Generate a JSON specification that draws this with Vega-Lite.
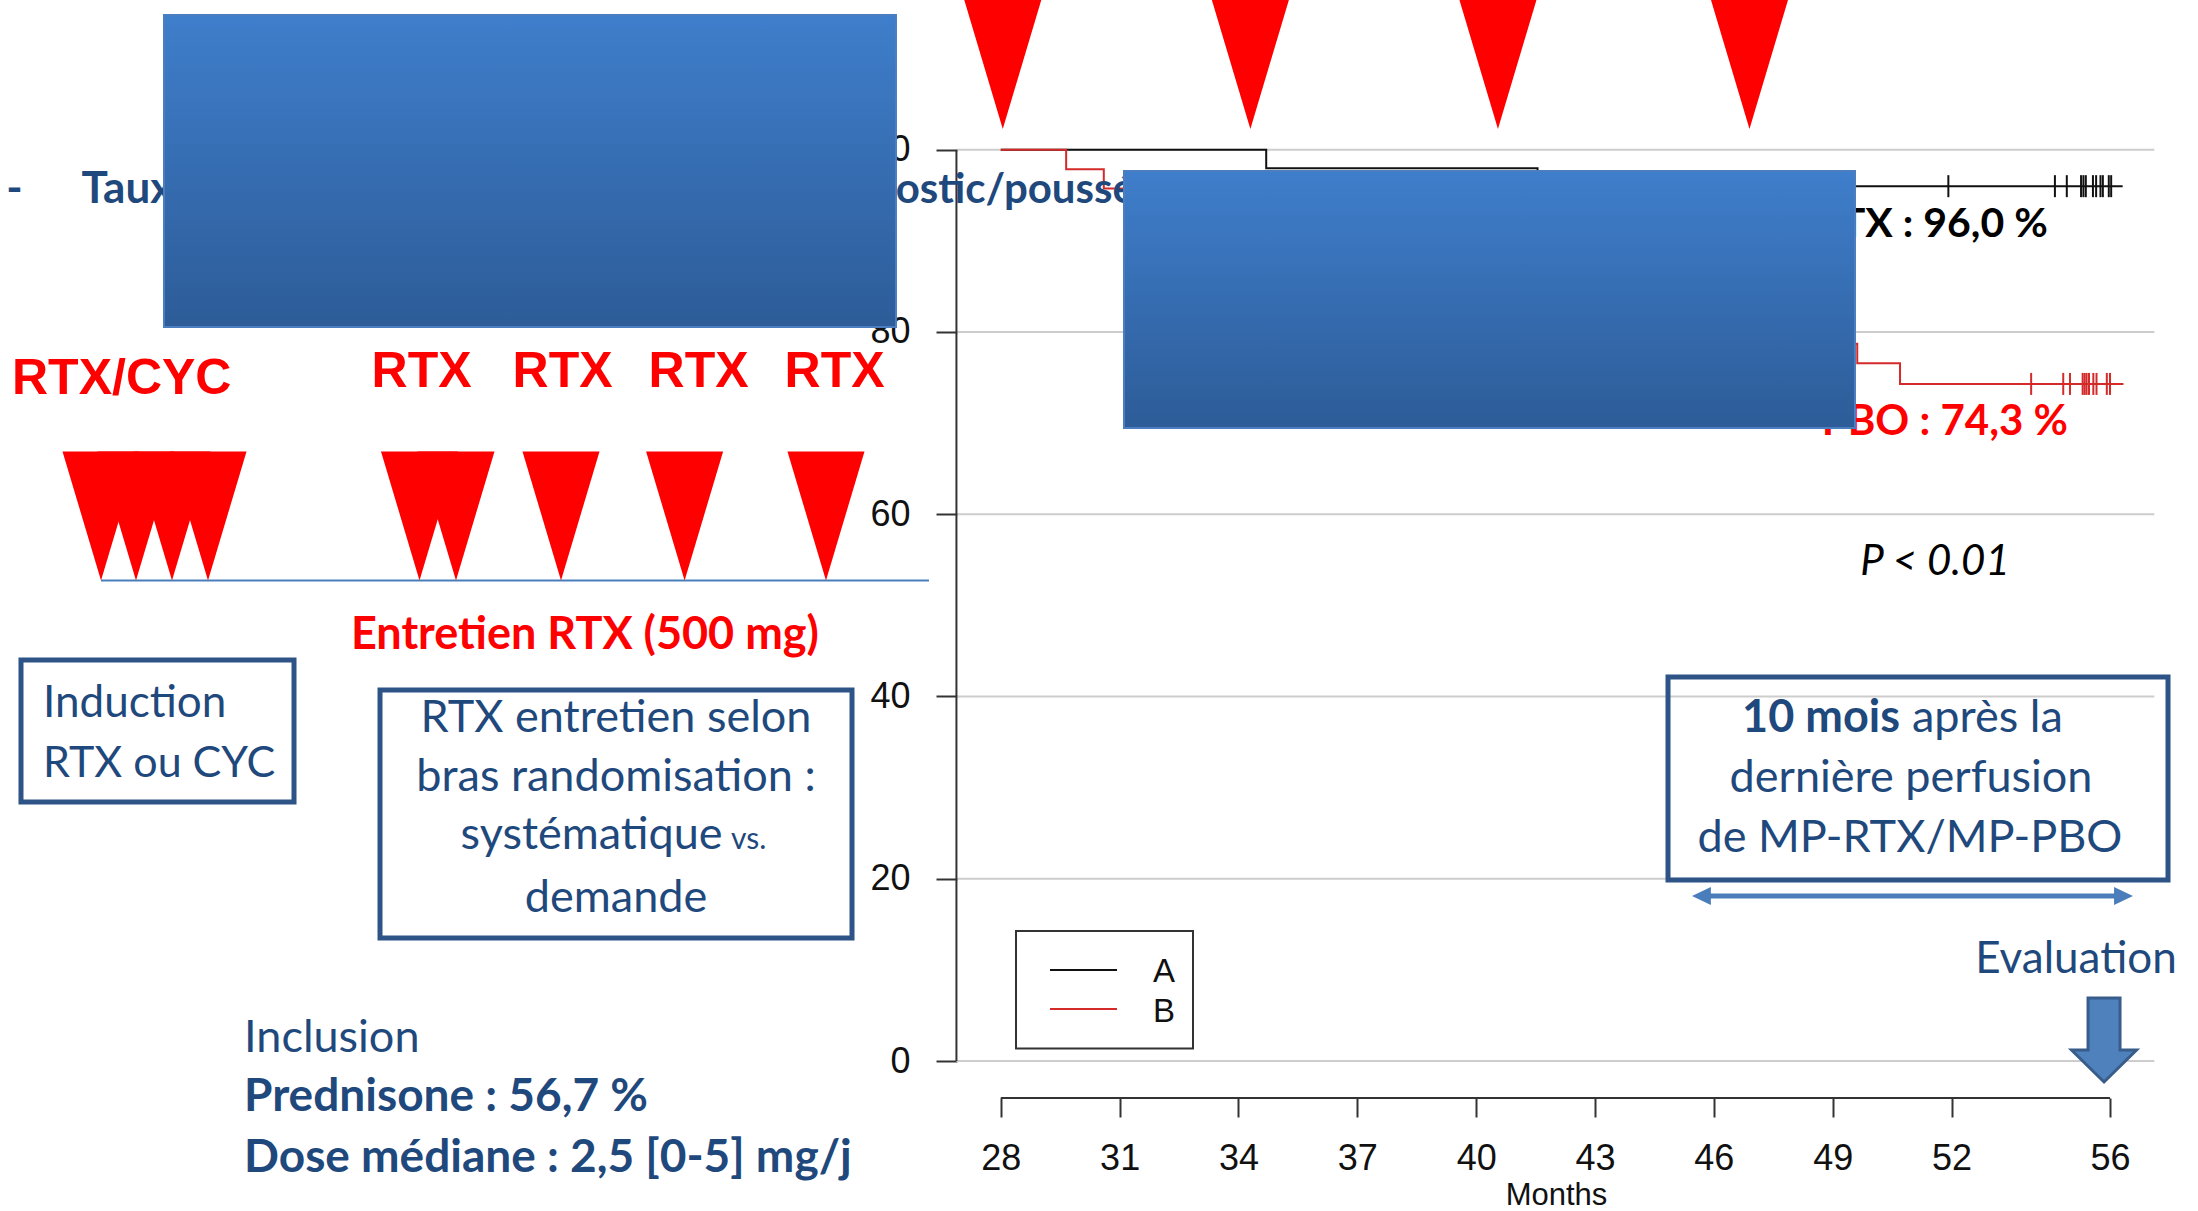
{
  "$schema": "https://vega.github.io/schema/vega-lite/v6.json",
  "width": 2198,
  "height": 1211,
  "autosize": {"type": "none"},
  "padding": 0,
  "background": "white",
  "config": {"view": {"stroke": null}},
  "data": {"values": [{}]},
  "datasets": {
    "gridY": [{"pct": 0}, {"pct": 20}, {"pct": 40}, {"pct": 60}, {"pct": 80}, {"pct": 100}],
    "km": [
      {"arm": "A", "month": 28, "surv": 100},
      {"arm": "A", "month": 34.7, "surv": 97.96},
      {"arm": "A", "month": 41.55, "surv": 96.0},
      {"arm": "A", "month": 56.32, "surv": 96.0},
      {"arm": "B", "month": 28, "surv": 100},
      {"arm": "B", "month": 29.65, "surv": 97.87},
      {"arm": "B", "month": 30.6, "surv": 95.74},
      {"arm": "B", "month": 31.6, "surv": 93.6},
      {"arm": "B", "month": 33.0, "surv": 91.5},
      {"arm": "B", "month": 34.5, "surv": 89.4},
      {"arm": "B", "month": 36.2, "surv": 87.2},
      {"arm": "B", "month": 38.3, "surv": 85.1},
      {"arm": "B", "month": 40.6, "surv": 83.0},
      {"arm": "B", "month": 43.3, "surv": 80.9},
      {"arm": "B", "month": 46.2, "surv": 78.7},
      {"arm": "B", "month": 49.62, "surv": 76.56},
      {"arm": "B", "month": 50.7, "surv": 74.3},
      {"arm": "B", "month": 56.34, "surv": 74.3}
    ],
    "censored": [
      {"arm": "A", "month": 51.92, "surv": 96.0},
      {"arm": "A", "month": 54.61, "surv": 96.0},
      {"arm": "A", "month": 54.91, "surv": 96.0},
      {"arm": "A", "month": 55.27, "surv": 96.0},
      {"arm": "A", "month": 55.33, "surv": 96.0},
      {"arm": "A", "month": 55.39, "surv": 96.0},
      {"arm": "A", "month": 55.57, "surv": 96.0},
      {"arm": "A", "month": 55.65, "surv": 96.0},
      {"arm": "A", "month": 55.76, "surv": 96.0},
      {"arm": "A", "month": 55.82, "surv": 96.0},
      {"arm": "A", "month": 55.97, "surv": 96.0},
      {"arm": "A", "month": 56.03, "surv": 96.0},
      {"arm": "B", "month": 54.01, "surv": 74.3},
      {"arm": "B", "month": 54.82, "surv": 74.3},
      {"arm": "B", "month": 54.99, "surv": 74.3},
      {"arm": "B", "month": 55.31, "surv": 74.3},
      {"arm": "B", "month": 55.36, "surv": 74.3},
      {"arm": "B", "month": 55.41, "surv": 74.3},
      {"arm": "B", "month": 55.47, "surv": 74.3},
      {"arm": "B", "month": 55.58, "surv": 74.3},
      {"arm": "B", "month": 55.66, "surv": 74.3},
      {"arm": "B", "month": 55.92, "surv": 74.3},
      {"arm": "B", "month": 56.0, "surv": 74.3}
    ],
    "mpInfusions": [{"month": 28.05}, {"month": 34.3}, {"month": 40.55}, {"month": 46.9}],
    "schemaInfusions": [
      {"pos": 5.286}, {"pos": 6.169}, {"pos": 7.078}, {"pos": 7.987},
      {"pos": 13.326}, {"pos": 14.247}, {"pos": 16.898}, {"pos": 20.018}, {"pos": 23.587}
    ],
    "maintenanceLabels": [
      {"pos": 13.379, "label": "RTX"},
      {"pos": 16.938, "label": "RTX"},
      {"pos": 20.371, "label": "RTX"},
      {"pos": 23.804, "label": "RTX"}
    ]
  },
  "layer": [
    {
      "data": {"name": "gridY"},
      "mark": {"type": "rule", "color": "#cdcdcd", "strokeWidth": 2},
      "encoding": {
        "y": {
          "field": "pct", "type": "quantitative",
          "scale": {"domain": [-16.46, 116.43], "nice": false, "zero": false},
          "axis": {
            "values": [0, 20, 40, 60, 80, 100], "offset": -957, "domain": false, "grid": false,
            "tickSize": 21, "tickWidth": 2, "tickColor": "#333333",
            "labelFont": "Liberation Sans", "labelFontSize": 36, "labelColor": "#111111",
            "labelPadding": 26, "labelOverlap": false, "labelFlush": false, "title": null
          }
        },
        "x": {"datum": 26.88, "type": "quantitative",
              "scale": {"domain": [2.736, 58.222], "nice": false, "zero": false}},
        "x2": {"datum": 57.12}
      }
    },
    {
      "mark": {"type": "rule", "color": "#333333", "strokeWidth": 2},
      "encoding": {
        "x": {"datum": 26.88, "type": "quantitative"},
        "y": {"datum": 0, "type": "quantitative"},
        "y2": {"datum": 100}
      }
    },
    {
      "mark": {"type": "rule", "color": "#333333", "strokeWidth": 2},
      "encoding": {
        "x": {"datum": 28, "type": "quantitative"},
        "x2": {"datum": 56},
        "y": {"datum": -4.06, "type": "quantitative"}
      }
    },
    {
      "data": {"name": "km"},
      "mark": {"type": "line", "interpolate": "step-after", "strokeWidth": 2},
      "encoding": {
        "x": {
          "field": "month", "type": "quantitative",
          "axis": {
            "values": [28, 31, 34, 37, 40, 43, 46, 49, 52, 56], "offset": -113, "domain": false, "grid": false,
            "tickSize": 19, "tickWidth": 2, "tickColor": "#333333",
            "labelFont": "Liberation Sans", "labelFontSize": 36, "labelColor": "#111111",
            "labelPadding": 24, "labelOverlap": false, "labelFlush": false,
            "title": "Months", "titleFont": "Liberation Sans", "titleFontSize": 31,
            "titleFontWeight": "normal", "titleColor": "#111111",
            "titleX": 1556, "titleY": 106, "titleAlign": "center", "titleBaseline": "alphabetic"
          }
        },
        "y": {"field": "surv", "type": "quantitative"},
        "color": {"field": "arm", "type": "nominal",
                  "scale": {"domain": ["A", "B"], "range": ["#111111", "#d42a2a"]}, "legend": null}
      }
    },
    {
      "data": {"name": "censored"},
      "mark": {"type": "tick", "orient": "vertical", "size": 22, "thickness": 2, "opacity": 1},
      "encoding": {
        "x": {"field": "month", "type": "quantitative"},
        "y": {"field": "surv", "type": "quantitative"},
        "color": {"field": "arm", "type": "nominal", "legend": null}
      }
    },
    {
      "mark": {"type": "rect", "fill": "white", "stroke": "#333333", "strokeWidth": 2},
      "encoding": {
        "x": {"datum": 28.384, "type": "quantitative"}, "x2": {"datum": 32.852},
        "y": {"datum": 14.27, "type": "quantitative"}, "y2": {"datum": 1.37}
      }
    },
    {
      "mark": {"type": "rule", "strokeWidth": 2},
      "encoding": {
        "x": {"datum": 29.242, "type": "quantitative"}, "x2": {"datum": 30.933},
        "y": {"datum": 9.986, "type": "quantitative"},
        "color": {"datum": "A", "type": "nominal", "legend": null}
      }
    },
    {
      "mark": {"type": "rule", "strokeWidth": 2},
      "encoding": {
        "x": {"datum": 29.242, "type": "quantitative"}, "x2": {"datum": 30.933},
        "y": {"datum": 5.706, "type": "quantitative"},
        "color": {"datum": "B", "type": "nominal", "legend": null}
      }
    },
    {
      "mark": {"type": "text", "text": "A", "font": "Liberation Sans", "fontSize": 33, "color": "#111111", "align": "left", "baseline": "alphabetic"},
      "encoding": {"x": {"datum": 31.842, "type": "quantitative"}, "y": {"datum": 8.669, "type": "quantitative"}}
    },
    {
      "mark": {"type": "text", "text": "B", "font": "Liberation Sans", "fontSize": 33, "color": "#111111", "align": "left", "baseline": "alphabetic"},
      "encoding": {"x": {"datum": 31.842, "type": "quantitative"}, "y": {"datum": 4.28, "type": "quantitative"}}
    },
    {
      "mark": {"type": "rule", "color": "#4a7ebb", "strokeWidth": 2},
      "encoding": {
        "x": {"datum": 5.286, "type": "quantitative"}, "x2": {"datum": 26.187},
        "y": {"datum": 52.72, "type": "quantitative"}
      }
    },
    {
      "data": {"name": "schemaInfusions"},
      "mark": {"type": "point", "shape": "M-0.597,-2L0.597,-2L0,0Z", "size": 16641, "filled": true, "fill": "#ff0000", "strokeWidth": 0, "opacity": 1},
      "encoding": {
        "x": {"field": "pos", "type": "quantitative"},
        "y": {"datum": 52.73, "type": "quantitative"}
      }
    },
    {
      "data": {"name": "mpInfusions"},
      "mark": {"type": "point", "shape": "M-0.597,-2L0.597,-2L0,0Z", "size": 16641, "filled": true, "fill": "#ff0000", "strokeWidth": 0, "opacity": 1},
      "encoding": {
        "x": {"field": "month", "type": "quantitative"},
        "y": {"datum": 102.27, "type": "quantitative"}
      }
    },
    {
      "mark": {"type": "text", "text": "RTX/CYC", "font": "Liberation Sans", "fontSize": 50, "fontWeight": "bold", "color": "#ff0000", "align": "left", "baseline": "alphabetic"},
      "encoding": {"x": {"datum": 3.039, "type": "quantitative"}, "y": {"datum": 73.19, "type": "quantitative"}}
    },
    {
      "data": {"name": "maintenanceLabels"},
      "mark": {"type": "text", "font": "Liberation Sans", "fontSize": 50, "fontWeight": "bold", "color": "#ff0000", "align": "center", "baseline": "alphabetic"},
      "encoding": {
        "x": {"field": "pos", "type": "quantitative"},
        "y": {"datum": 73.96, "type": "quantitative"},
        "text": {"field": "label"}
      }
    },
    {
      "mark": {"type": "text", "text": "Entretien RTX (500 mg)", "font": "Lato", "fontSize": 45, "fontWeight": "bold", "color": "#ff0000", "align": "center", "baseline": "alphabetic"},
      "encoding": {"x": {"datum": 17.502, "type": "quantitative"}, "y": {"datum": 45.21, "type": "quantitative"}}
    },
    {
      "mark": {"type": "rect", "fill": "transparent", "stroke": "#2e5487", "strokeWidth": 5},
      "encoding": {
        "x": {"datum": 3.266, "type": "quantitative"}, "x2": {"datum": 10.158},
        "y": {"datum": 44.0, "type": "quantitative"}, "y2": {"datum": 28.42}
      }
    },
    {
      "mark": {"type": "text", "text": "Induction", "font": "Lato", "fontSize": 44, "color": "#1f497d", "align": "left", "baseline": "alphabetic"},
      "encoding": {"x": {"datum": 3.822, "type": "quantitative"}, "y": {"datum": 37.75, "type": "quantitative"}}
    },
    {
      "mark": {"type": "text", "text": "RTX ou CYC", "font": "Lato", "fontSize": 43, "color": "#1f497d", "align": "left", "baseline": "alphabetic"},
      "encoding": {"x": {"datum": 3.822, "type": "quantitative"}, "y": {"datum": 31.16, "type": "quantitative"}}
    },
    {
      "mark": {"type": "rect", "fill": "transparent", "stroke": "#2e5487", "strokeWidth": 5},
      "encoding": {
        "x": {"datum": 12.329, "type": "quantitative"}, "x2": {"datum": 24.244},
        "y": {"datum": 40.71, "type": "quantitative"}, "y2": {"datum": 13.5}
      }
    },
    {
      "mark": {"type": "text", "text": "RTX entretien selon", "font": "Lato", "fontSize": 45, "color": "#1f497d", "align": "center", "baseline": "alphabetic"},
      "encoding": {"x": {"datum": 18.286, "type": "quantitative"}, "y": {"datum": 36.05, "type": "quantitative"}}
    },
    {
      "mark": {"type": "text", "text": "bras randomisation :", "font": "Lato", "fontSize": 45, "color": "#1f497d", "align": "center", "baseline": "alphabetic"},
      "encoding": {"x": {"datum": 18.286, "type": "quantitative"}, "y": {"datum": 29.63, "type": "quantitative"}}
    },
    {
      "mark": {"type": "text", "text": "systématique", "font": "Lato", "fontSize": 45, "color": "#1f497d", "align": "right", "baseline": "alphabetic"},
      "encoding": {"x": {"datum": 20.977, "type": "quantitative"}, "y": {"datum": 23.27, "type": "quantitative"}}
    },
    {
      "mark": {"type": "text", "text": "vs.", "font": "Lato", "fontSize": 30, "color": "#1f497d", "align": "left", "baseline": "alphabetic"},
      "encoding": {"x": {"datum": 21.189, "type": "quantitative"}, "y": {"datum": 23.27, "type": "quantitative"}}
    },
    {
      "mark": {"type": "text", "text": "demande", "font": "Lato", "fontSize": 45, "color": "#1f497d", "align": "center", "baseline": "alphabetic"},
      "encoding": {"x": {"datum": 18.286, "type": "quantitative"}, "y": {"datum": 16.35, "type": "quantitative"}}
    },
    {
      "mark": {"type": "text", "text": "Inclusion", "font": "Lato", "fontSize": 45, "color": "#1f497d", "align": "left", "baseline": "alphabetic"},
      "encoding": {"x": {"datum": 8.896, "type": "quantitative"}, "y": {"datum": 0.988, "type": "quantitative"}}
    },
    {
      "mark": {"type": "text", "text": "Prednisone : 56,7 %", "font": "Lato", "fontSize": 46, "fontWeight": "bold", "color": "#1f497d", "align": "left", "baseline": "alphabetic"},
      "encoding": {"x": {"datum": 8.896, "type": "quantitative"}, "y": {"datum": -5.487, "type": "quantitative"}}
    },
    {
      "mark": {"type": "text", "text": "Dose médiane : 2,5 [0-5] mg/j", "font": "Lato", "fontSize": 46, "fontWeight": "bold", "color": "#1f497d", "align": "left", "baseline": "alphabetic"},
      "encoding": {"x": {"datum": 8.896, "type": "quantitative"}, "y": {"datum": -12.18, "type": "quantitative"}}
    },
    {
      "mark": {"type": "text", "text": "-", "font": "Lato", "fontSize": 44, "fontWeight": "bold", "color": "#1f497d", "align": "center", "baseline": "alphabetic"},
      "encoding": {"x": {"datum": 3.102, "type": "quantitative"}, "y": {"datum": 94.15, "type": "quantitative"}}
    },
    {
      "mark": {"type": "text", "text": "Taux de survie sans rechute", "font": "Lato", "fontSize": 44, "fontWeight": "bold", "color": "#1f497d", "align": "left", "baseline": "alphabetic"},
      "encoding": {"x": {"datum": 4.794, "type": "quantitative"}, "y": {"datum": 94.15, "type": "quantitative"}}
    },
    {
      "mark": {"type": "text", "text": "diagnostic/poussée", "font": "Lato", "fontSize": 42, "fontWeight": "bold", "color": "#1f497d", "align": "left", "baseline": "alphabetic"},
      "encoding": {"x": {"datum": 22.78, "type": "quantitative"}, "y": {"datum": 94.15, "type": "quantitative"}}
    },
    {
      "mark": {"type": "text", "text": "RTX : 96,0 %", "font": "Lato", "fontSize": 41, "fontWeight": "bold", "color": "#000000", "align": "right", "baseline": "alphabetic"},
      "encoding": {"x": {"datum": 54.43, "type": "quantitative"}, "y": {"datum": 90.42, "type": "quantitative"}}
    },
    {
      "mark": {"type": "text", "text": "PBO : 74,3 %", "font": "Lato", "fontSize": 42, "fontWeight": "bold", "color": "#ff0000", "align": "right", "baseline": "alphabetic"},
      "encoding": {"x": {"datum": 54.94, "type": "quantitative"}, "y": {"datum": 68.69, "type": "quantitative"}}
    },
    {
      "mark": {"type": "text", "text": "P < 0.01", "font": "Lato", "fontSize": 42, "fontStyle": "italic", "color": "#000000", "align": "center", "baseline": "alphabetic"},
      "encoding": {"x": {"datum": 51.585, "type": "quantitative"}, "y": {"datum": 53.33, "type": "quantitative"}}
    },
    {
      "mark": {"type": "rect", "fill": "transparent", "stroke": "#2e5487", "strokeWidth": 5},
      "encoding": {
        "x": {"datum": 44.843, "type": "quantitative"}, "x2": {"datum": 57.465},
        "y": {"datum": 42.14, "type": "quantitative"}, "y2": {"datum": 19.86}
      }
    },
    {
      "mark": {"type": "text", "text": "10 mois", "font": "Lato", "fontSize": 45, "fontWeight": "bold", "color": "#1f497d", "align": "right", "baseline": "alphabetic"},
      "encoding": {"x": {"datum": 50.699, "type": "quantitative"}, "y": {"datum": 36.14, "type": "quantitative"}}
    },
    {
      "mark": {"type": "text", "text": "après la", "font": "Lato", "fontSize": 45, "color": "#1f497d", "align": "left", "baseline": "alphabetic"},
      "encoding": {"x": {"datum": 51.002, "type": "quantitative"}, "y": {"datum": 36.14, "type": "quantitative"}}
    },
    {
      "mark": {"type": "text", "text": "dernière perfusion", "font": "Lato", "fontSize": 45, "color": "#1f497d", "align": "center", "baseline": "alphabetic"},
      "encoding": {"x": {"datum": 50.977, "type": "quantitative"}, "y": {"datum": 29.55, "type": "quantitative"}}
    },
    {
      "mark": {"type": "text", "text": "de MP-RTX/MP-PBO", "font": "Lato", "fontSize": 45, "color": "#1f497d", "align": "center", "baseline": "alphabetic"},
      "encoding": {"x": {"datum": 50.95, "type": "quantitative"}, "y": {"datum": 22.97, "type": "quantitative"}}
    },
    {
      "mark": {"type": "rule", "color": "#4a7ebb", "strokeWidth": 5},
      "encoding": {
        "x": {"datum": 45.65, "type": "quantitative"}, "x2": {"datum": 56.38},
        "y": {"datum": 18.11, "type": "quantitative"}
      }
    },
    {
      "mark": {"type": "point", "shape": "M0,0L2.1,-1L2.1,1Z", "size": 324, "filled": true, "fill": "#4a7ebb", "strokeWidth": 0, "opacity": 1},
      "encoding": {"x": {"datum": 45.448, "type": "quantitative"}, "y": {"datum": 18.11, "type": "quantitative"}}
    },
    {
      "mark": {"type": "point", "shape": "M0,0L-2.1,-1L-2.1,1Z", "size": 324, "filled": true, "fill": "#4a7ebb", "strokeWidth": 0, "opacity": 1},
      "encoding": {"x": {"datum": 56.58, "type": "quantitative"}, "y": {"datum": 18.11, "type": "quantitative"}}
    },
    {
      "mark": {"type": "text", "text": "Evaluation", "font": "Lato", "fontSize": 44, "color": "#1f497d", "align": "left", "baseline": "alphabetic"},
      "encoding": {"x": {"datum": 52.598, "type": "quantitative"}, "y": {"datum": 9.66, "type": "quantitative"}}
    },
    {
      "mark": {"type": "point", "shape": "M-0.381,-2L0.381,-2L0.381,-0.762L0.774,-0.762L0,0L-0.774,-0.762L-0.381,-0.762Z", "size": 7056, "filled": true, "fill": "#4f81bd", "stroke": "#385d8a", "strokeWidth": 3, "opacity": 1},
      "encoding": {"x": {"datum": 55.85, "type": "quantitative"}, "y": {"datum": -2.3, "type": "quantitative"}}
    },
    {
      "mark": {
        "type": "rect", "stroke": "#4a7ec0", "strokeWidth": 2,
        "fill": {"gradient": "linear", "x1": 0, "y1": 0, "x2": 0, "y2": 1,
                 "stops": [{"offset": 0, "color": "#3f7ecb"}, {"offset": 1, "color": "#2d5c98"}]}
      },
      "encoding": {
        "x": {"datum": 6.876, "type": "quantitative"}, "x2": {"datum": 25.354},
        "y": {"datum": 114.78, "type": "quantitative"}, "y2": {"datum": 80.54}
      }
    },
    {
      "mark": {
        "type": "rect", "stroke": "#4a7ec0", "strokeWidth": 2,
        "fill": {"gradient": "linear", "x1": 0, "y1": 0, "x2": 0, "y2": 1,
                 "stops": [{"offset": 0, "color": "#3f7ecb"}, {"offset": 1, "color": "#2d5c98"}]}
      },
      "encoding": {
        "x": {"datum": 31.11, "type": "quantitative"}, "x2": {"datum": 49.563},
        "y": {"datum": 97.66, "type": "quantitative"}, "y2": {"datum": 69.46}
      }
    }
  ]
}
